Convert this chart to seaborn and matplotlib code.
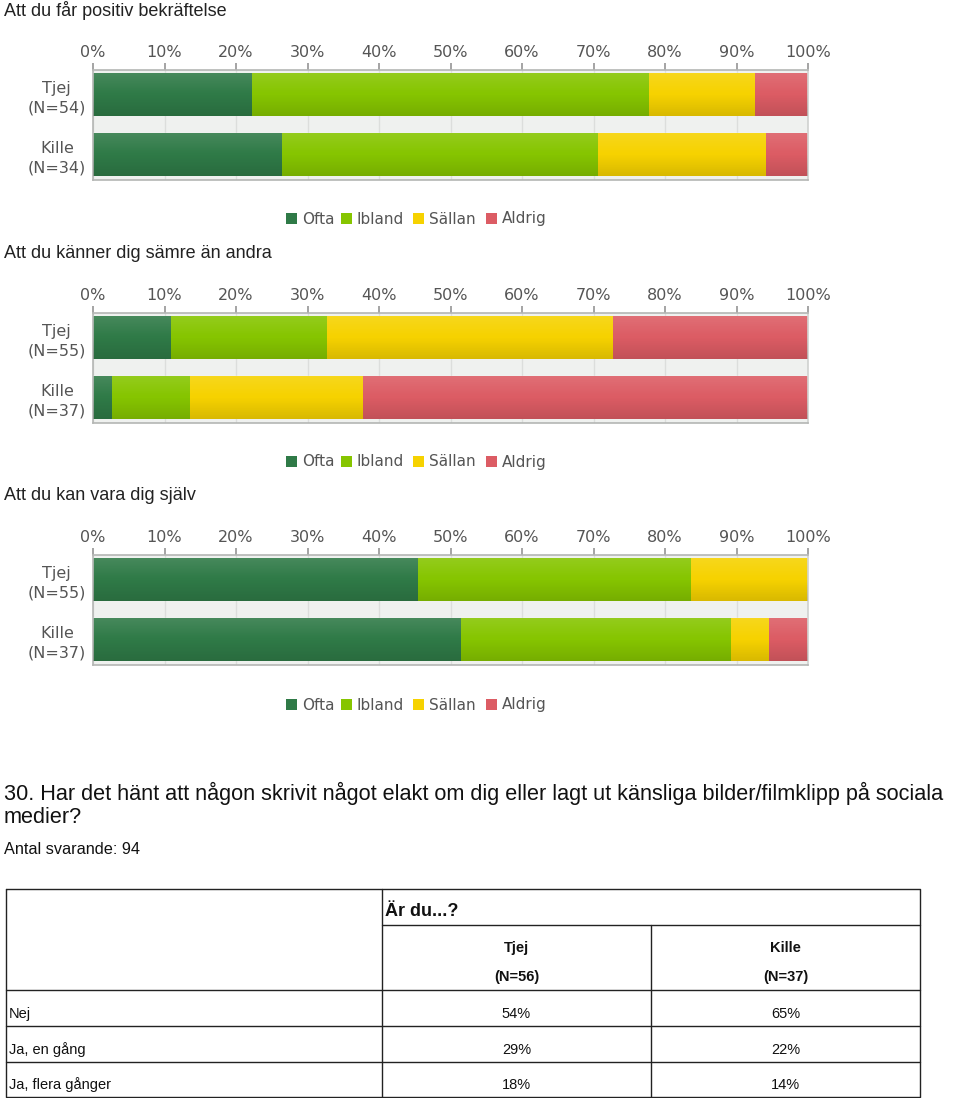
import numpy as np
import pandas as pd
import seaborn as sns
import matplotlib.pyplot as plt
from matplotlib.patches import Rectangle

# answers, percent per group (Ofta, Ibland, Sällan, Aldrig)
answers = ["Ofta", "Ibland", "Sällan", "Aldrig"]
answer_colors = ["#2f7a47", "#86c500", "#f6d200", "#dc5c64"]

titles = ["Att du får positiv bekräftelse",
          "Att du känner dig sämre än andra",
          "Att du kan vara dig själv"]

groups_1 = ["Tjej\n(N=54)", "Kille\n(N=34)"]
tjej_1 = [22.2, 55.6, 14.8, 7.4]
kille_1 = [26.5, 44.1, 23.5, 5.9]

groups_2 = ["Tjej\n(N=55)", "Kille\n(N=37)"]
tjej_2 = [10.9, 21.8, 40.0, 27.3]
kille_2 = [2.7, 10.8, 24.3, 62.2]

groups_3 = ["Tjej\n(N=55)", "Kille\n(N=37)"]
tjej_3 = [45.5, 38.2, 16.4, 0.0]
kille_3 = [51.4, 37.8, 5.4, 5.4]

question = ("30. Har det hänt att någon skrivit något elakt om dig eller lagt ut känsliga bilder/filmklipp på sociala\n"
            "medier?")
n_answers = "Antal svarande: 94"
table_head = "Är du...?"
table_cols = ["Tjej\n\n(N=56)", "Kille\n\n(N=37)"]
table_rows = ["Nej", "Ja, en gång", "Ja, flera gånger"]
table_tjej = ["54%", "29%", "18%"]
table_kille = ["65%", "22%", "14%"]

W, H = 960, 1098
sns.set_theme(style="white")
plt.rcParams['font.family'] = ['Liberation Sans', 'DejaVu Sans']

fig = plt.figure(figsize=(W / 100, H / 100), dpi=100)

# overlay in pixel coords for legends and the table
tab = fig.add_axes([0, 0, 1, 1])
tab.set_xlim(0, W)
tab.set_ylim(H, 0)
tab.axis("off")


def px_axes(x0, y0, x1, y1):
    return fig.add_axes([x0 / W, 1 - y1 / H, (x1 - x0) / W, (y1 - y0) / H])


def stacked_chart(ax, groups, tjej, kille):
    df = pd.DataFrame([tjej, kille], columns=answers)
    df["grupp"] = groups
    cum = df[answers].cumsum(axis=1)
    # draw the cumulative bars from the longest down so they stack
    for ans, col in reversed(list(zip(answers, answer_colors))):
        d = pd.DataFrame({"grupp": groups, "val": cum[ans].values})
        sns.barplot(data=d, x="val", y="grupp", order=groups, color=col,
                    saturation=1, width=0.717, errorbar=None, ax=ax,
                    linewidth=0, zorder=2)
    # light/dark shading over each bar row
    grad = np.zeros((50, 1, 4))
    t = np.linspace(0, 1, 50)
    grad[:, 0, :3] = np.where(t[:, None] < 0.5, 1.0, 0.0)
    grad[:, 0, 3] = np.abs(t - 0.5) * 0.24
    for i in range(len(groups)):
        ax.imshow(grad, extent=[0, 100, i + 0.3585, i - 0.3585],
                  aspect="auto", zorder=3, interpolation="bilinear")
    ax.set_xlim(0, 100)
    ax.set_ylim(1.425, -0.408)
    ax.set_facecolor("#eff1ef")
    ax.xaxis.tick_top()
    ax.set_xticks(range(0, 101, 10))
    ax.set_xticklabels([f"{v}%" for v in range(0, 101, 10)],
                       family="DejaVu Sans", fontsize=11.5, color="#555555")
    ax.tick_params(axis="x", direction="out", length=5, color="#999999",
                   pad=2, top=True, bottom=False)
    ax.tick_params(axis="y", length=0, pad=5)
    ax.set_yticks(range(len(groups)))
    ax.set_yticklabels(groups, family="DejaVu Sans", fontsize=11.5,
                       color="#555555", linespacing=1.4)
    for lbl in ax.get_yticklabels():
        lbl.set_multialignment("center")
    ax.grid(axis="x", color="#dcdedc", linewidth=1, zorder=0)
    ax.set_axisbelow(True)
    ax.set_xlabel("")
    ax.set_ylabel("")
    for s in ax.spines.values():
        s.set_color("#b4b6b4")
        s.set_linewidth(1.2)
    ax.spines["right"].set_color("#d0d2d0")


charts = [(groups_1, tjej_1, kille_1), (groups_2, tjej_2, kille_2),
          (groups_3, tjej_3, kille_3)]
title_y = [11, 254, 496]
axes_top = [70, 313, 555]
legend_y = [218, 461, 704]
legend_x = [286, 341, 413, 486]

for k, (g, tj, ki) in enumerate(charts):
    fig.text(4 / W, 1 - title_y[k] / H, titles[k], fontsize=13,
             color="#222222", va="center", ha="left")
    ax = px_axes(93, axes_top[k], 808, axes_top[k] + 110)
    stacked_chart(ax, g, tj, ki)
    # legend
    for lx, lab, col in zip(legend_x, answers, answer_colors):
        tab.add_patch(Rectangle((lx, legend_y[k] - 5), 11, 11, facecolor=col,
                                edgecolor="none"))
        tab.text(lx + 16, legend_y[k] + 5.5, lab, family="DejaVu Sans",
                 fontsize=11, color="#555555", ha="left", va="baseline")

# question + table
fig.text(4 / W, 1 - 805 / H, question, fontsize=15.6, color="#111111",
         va="center", ha="left", linespacing=1.12)
fig.text(4 / W, 1 - 850 / H, n_answers, fontsize=11.7, color="#111111",
         va="center", ha="left")

lc = "#222222"
x_left, x_c1, x_c2, x_right = 6, 382, 651, 920
y_rows = [889, 925, 990, 1026, 1062, 1097]
tab.plot([x_left, x_right, x_right, x_left, x_left],
         [y_rows[0], y_rows[0], y_rows[-1], y_rows[-1], y_rows[0]], color=lc, lw=1)
tab.plot([x_c1, x_right], [y_rows[1]] * 2, color=lc, lw=1)
for yy in y_rows[2:5]:
    tab.plot([x_left, x_right], [yy, yy], color=lc, lw=1)
tab.plot([x_c1, x_c1], [y_rows[0], y_rows[-1]], color=lc, lw=1)
tab.plot([x_c2, x_c2], [y_rows[1], y_rows[-1]], color=lc, lw=1)

tab.text(x_c1 + 3, 911, table_head, fontsize=13, fontweight="bold",
         va="center", ha="left", color="#111111")
for xc, lab in zip([(x_c1 + x_c2) / 2, (x_c2 + x_right) / 2], table_cols):
    name, _, n = lab.split("\n")
    tab.text(xc, 948, name, fontsize=10.5, fontweight="bold", ha="center",
             va="center", color="#111111")
    tab.text(xc, 977, n, fontsize=10.5, fontweight="bold", ha="center",
             va="center", color="#111111")
row_y = [1014, 1050, 1085]
for yy, r, a, b in zip(row_y, table_rows, table_tjej, table_kille):
    tab.text(x_left + 3, yy, r, fontsize=10.5, ha="left", va="center", color="#111111")
    tab.text((x_c1 + x_c2) / 2, yy, a, fontsize=10.5, ha="center", va="center", color="#111111")
    tab.text((x_c2 + x_right) / 2, yy, b, fontsize=10.5, ha="center", va="center", color="#111111")

fig.savefig("out.png", dpi=100, facecolor="white")
